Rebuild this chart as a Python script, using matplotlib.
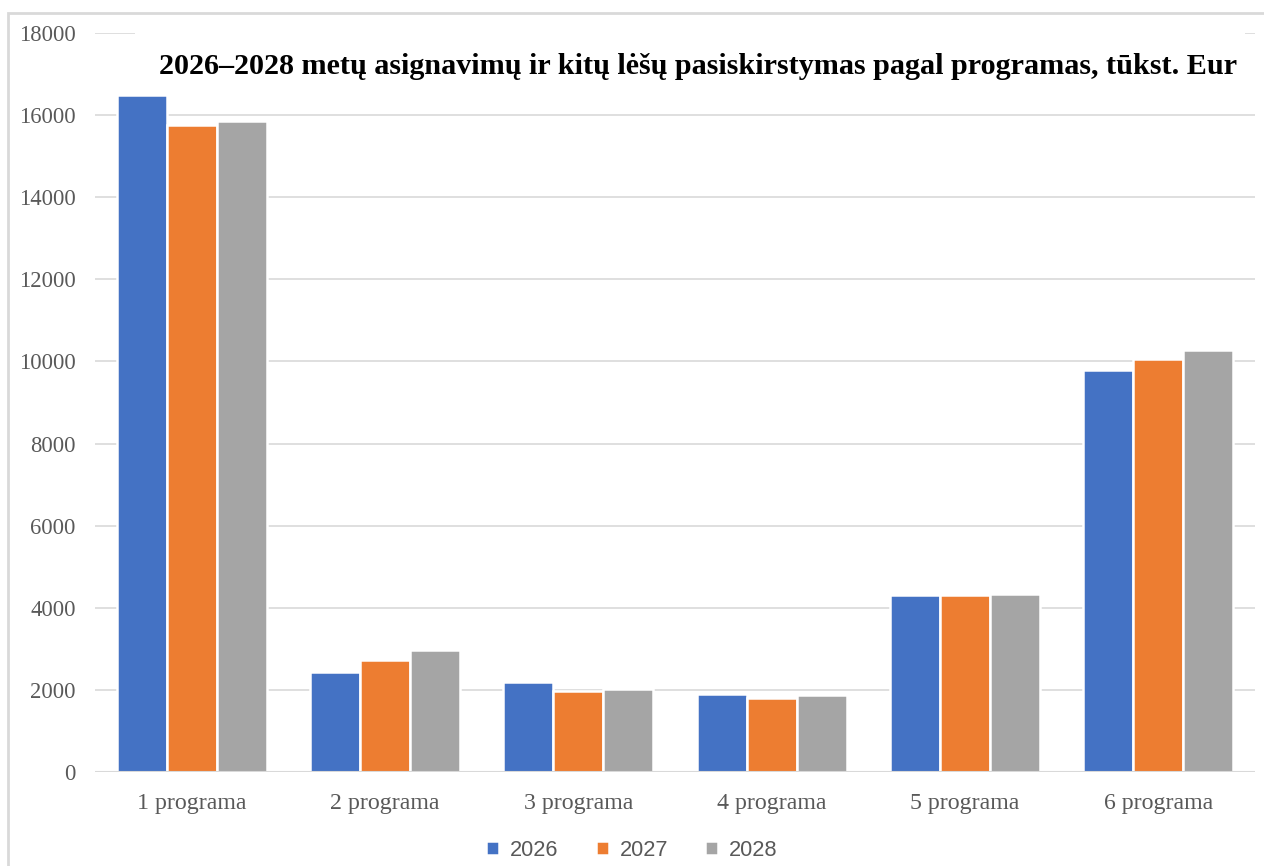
import matplotlib
matplotlib.use("Agg")
import matplotlib.pyplot as plt
import numpy as np
from matplotlib.patches import Rectangle

categories = ["1 programa", "2 programa", "3 programa", "4 programa", "5 programa", "6 programa"]
years = ["2026", "2027", "2028"]
v2026 = [16490, 2430, 2180, 1900, 4320, 9790]
v2027 = [15760, 2740, 1980, 1800, 4320, 10050]
v2028 = [15860, 2980, 2010, 1880, 4330, 10280]
colors = ["#4472C4", "#ED7D31", "#A5A5A5"]
title = "2026–2028 metų asignavimų ir kitų lėšų pasiskirstymas pagal programas, tūkst. Eur"

fig = plt.figure(figsize=(12.64, 8.66), dpi=100)
ax = fig.add_axes([95/1264, 1-772/866, 1160/1264, (772-33)/866])

x = np.arange(len(categories))
w = 0.259
for i, (vals, c, lab) in enumerate(zip([v2026, v2027, v2028], colors, years)):
    ax.bar(x + (i-1)*w, vals, width=w, color=c, edgecolor="white", linewidth=1.8, label=lab, zorder=3)

ax.set_xlim(-0.5, len(categories)-0.5)
ax.set_ylim(0, 18000)
ax.set_yticks(np.arange(0, 18001, 2000))
ax.grid(axis="y", color="#D9D9D9", linewidth=1.2, zorder=0)
for s in ax.spines.values():
    s.set_visible(False)
ax.axhline(0, color="#D9D9D9", linewidth=1.5, zorder=4)
ax.tick_params(axis="both", length=0, labelcolor="#595959")
ax.tick_params(axis="y", pad=14, labelsize=16.3)
ax.tick_params(axis="x", pad=15, labelsize=17.2)
ax.set_xticks(x)
ax.set_xticklabels(categories)
for t in ax.get_xticklabels() + ax.get_yticklabels():
    t.set_fontfamily("Liberation Serif")

fig.patches.append(Rectangle((135/1264, 1-90/866), (1245-135)/1264, (90-25)/866,
                             transform=fig.transFigure, facecolor="white", edgecolor="none", zorder=5))
fig.text(0.552, 1-66/866, title, ha="center", va="center", fontsize=21.7, fontweight="bold",
         fontfamily="Liberation Serif", color="black", zorder=10)

leg = fig.legend(loc="center", bbox_to_anchor=(0.5, 1-850/866), ncol=3, frameon=False,
                 prop={"family": "Liberation Sans", "size": 15.7}, handlelength=0.6, handleheight=0.6,
                 columnspacing=1.7, handletextpad=0.5)
for t in leg.get_texts():
    t.set_color("#595959")

fig.patches.append(Rectangle((8/1264, -0.1), 1.2, 1-13/866+0.1, transform=fig.transFigure,
                             fill=False, edgecolor="#D9D9D9", linewidth=2, zorder=6))

fig.savefig("out.png", dpi=100)
